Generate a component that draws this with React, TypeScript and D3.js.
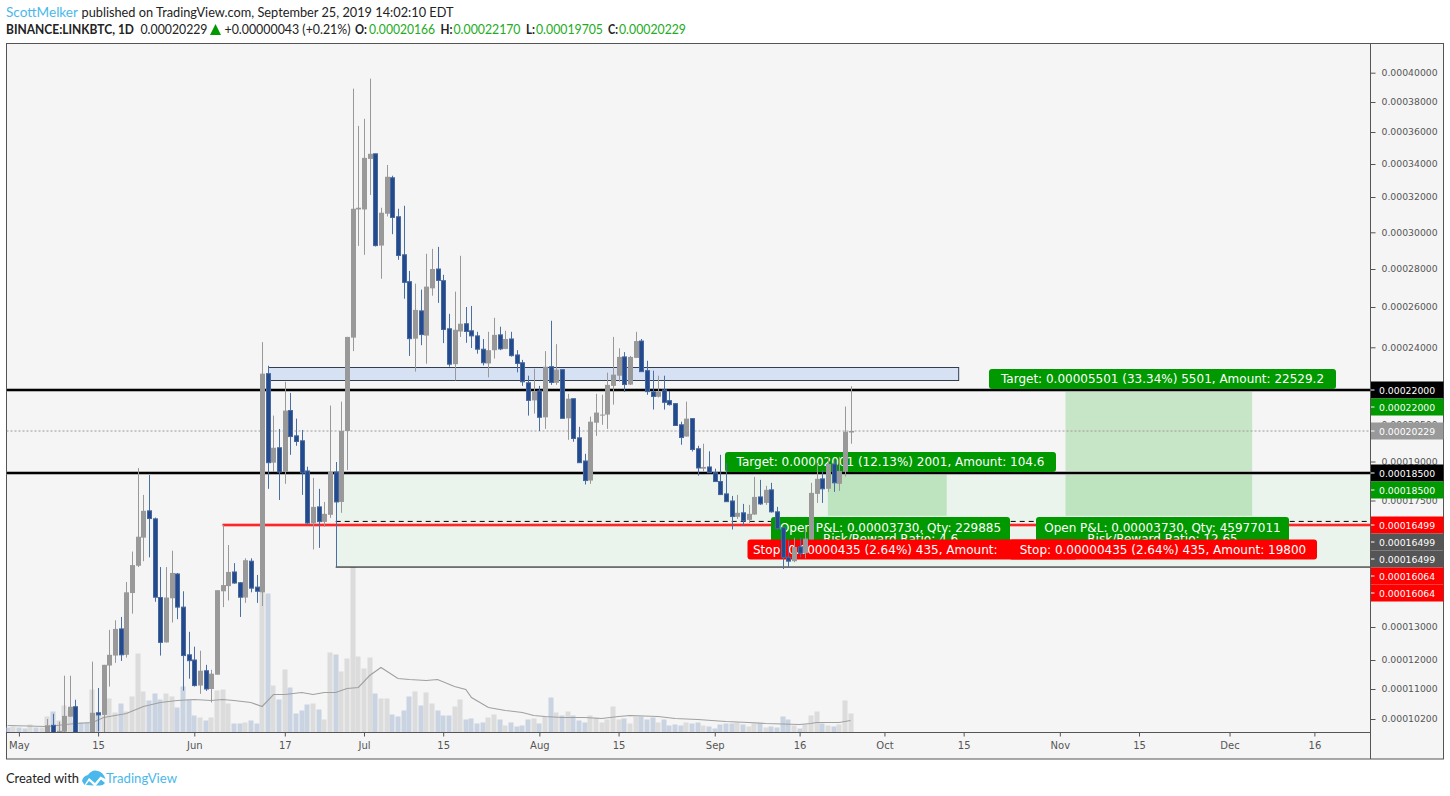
import { useEffect, useRef } from 'react';
import * as d3 from 'd3';

// prices are in satoshi (1e-8 BTC), day numbers count from May 1 2019
const firstCandleDay = 5;
const firstVolumeDay = -2;

const opens = [
  9700, 10040, 9700, 9880, 10260, 10520, 9650, 9650, 9700, 10360, 10306,
  11803, 12130, 12940, 12152, 14074, 15000, 16019, 17071, 16744, 13926,
  12524, 13903, 14715, 13618, 12152, 12000, 11114, 11620, 11000, 11483,
  14132, 14304, 14784, 14416, 13926, 15161, 14270, 14098, 22745, 18948,
  19544, 18543, 21093, 20028, 19826, 18587, 16567, 17234, 16622, 16908,
  18543, 17439, 20229, 24465, 31280, 31280, 34313, 34625, 29260, 31036,
  33151, 30866, 28758, 27316, 24415, 25800, 24565, 26964, 28000, 27369,
  24900, 23187, 24765, 25150, 24800, 24550, 23907, 23223, 23860, 24600,
  23921, 24400, 23628, 23256, 22325, 21538, 21957, 20804, 23070, 22325,
  22930, 20760, 21611, 19947, 19020, 18220, 20575, 20890, 20920, 22186,
  22651, 23535, 22246, 23488, 24300, 22884, 21914, 21698, 22000, 21525,
  21395, 20488, 20000, 20747, 19504, 18687, 18761, 18513, 18183, 17736,
  17480, 16826, 16990, 16703, 16919, 17627, 17398, 17881, 17030, 16396,
  15298, 15161, 15676, 15446, 15950, 17736, 18282, 17918, 18891, 18100,
  18557, 20166,
];
const highs = [
  10200, 10333, 10130, 11448, 11448, 10706, 9700, 9700, 11941, 11034, 11827,
  12909, 13206, 13309, 14441, 15504, 18717, 17699, 18427, 16797, 14955,
  14955, 15538, 14750, 14132, 12849, 12394, 12273, 11827, 11655, 14167,
  16499, 15744, 15093, 14441, 15264, 15264, 14681, 24250, 23116, 20877,
  20315, 22372, 21870, 20747, 20272, 18774, 18318, 17918, 17439, 21309,
  18978, 21482, 24500, 38896, 36400, 36866, 39586, 34625, 31376, 33940,
  33273, 31320, 31490, 27895, 27211, 26895, 28812, 29082, 29190, 27684,
  25650, 26790, 28704, 26000, 26053, 24750, 24400, 24750, 25450, 25000,
  24800, 24750, 23860, 23395, 22651, 22977, 22186, 23814, 25300, 24150,
  22930, 21827, 21611, 20402, 19302, 20834, 21827, 21784, 22791, 24500,
  23953, 23767, 23581, 24750, 24400, 23349, 22884, 22651, 22651, 21957,
  21395, 20618, 21482, 20760, 19624, 19705, 19403, 18687, 19262, 18935,
  17663, 17699, 17357, 17316, 18354, 18245, 18027, 18136, 17234, 16430,
  15926, 16019, 16019, 16327, 18136, 18935, 18630, 19181, 19060, 19181,
  21266, 22170,
];
const lows = [
  9600, 9600, 9600, 9700, 10260, 9600, 9500, 9500, 9600, 9885, 9600,
  11080, 11897, 11965, 12070, 13412, 14955, 15161, 15298, 13789, 12130,
  12515, 13137, 13240, 10955, 11345, 11080, 10866, 10947, 10634, 11483,
  13618, 13834, 14383, 13309, 13754, 14098, 13754, 13652, 17918, 18543,
  17518, 18100, 19262, 19624, 17699, 16499, 15583, 15641, 16430, 16785,
  14955, 16990, 18630, 23814, 29244, 28758, 32121, 29206, 27474, 30883,
  29892, 28488, 26421, 23581, 22837, 24100, 23209, 26579, 26211, 24200,
  23070, 22432, 24500, 24215, 23967, 23688, 23130, 22572, 23456, 23860,
  23907, 23549, 22805, 22186, 20877, 20963, 20229, 20315, 22232, 22232,
  20760, 19866, 19786, 18948, 18074, 18100, 20028, 20488, 20315, 21352,
  22372, 21914, 22220, 23488, 22837, 21784, 21136, 21667, 21136, 21309,
  20445, 19665, 20000, 19394, 18402, 18557, 18513, 18183, 17699, 17451,
  16327, 16744, 16465, 16581, 16908, 17316, 17316, 17000, 16327, 14887,
  14921, 15127, 15298, 15264, 15950, 17398, 17398, 17808, 17808, 17845,
  18365, 19705,
];
const closes = [
  10040, 9700, 9900, 10280, 10520, 9700, 9600, 9600, 10360, 10306, 11827,
  12152, 12940, 12152, 14098, 15024, 16053, 17071, 16757, 13937, 12524,
  13926, 14750, 13618, 12130, 11976, 11114, 11620, 11000, 11517, 14167,
  14338, 14784, 14407, 13937, 15196, 14235, 14132, 22745, 18948, 19544,
  18543, 21093, 20000, 19798, 18500, 16578, 17234, 16634, 16948, 18543,
  17439, 20229, 24500, 31320, 31376, 34375, 34625, 29260, 31093, 33212,
  30827, 28720, 27279, 24415, 25850, 24615, 27053, 28000, 27385, 24865,
  23187, 24850, 25150, 24765, 24550, 23907, 23256, 23860, 24600, 23921,
  24400, 23595, 23223, 22372, 21538, 21957, 20804, 23070, 22339, 22930,
  20760, 21611, 19919, 18948, 18220, 20618, 21006, 20920, 22232, 22698,
  23535, 22246, 23535, 24300, 22837, 21927, 21711, 21914, 21451, 21352,
  20458, 19959, 20747, 19475, 18717, 18761, 18513, 18183, 17710, 17451,
  16838, 16990, 16663, 16948, 17627, 17357, 17881, 17030, 16362, 15298,
  15161, 15676, 15446, 15984, 17772, 18282, 17918, 18891, 18136, 18587,
  20201, 20229,
];

// volume, in the height units of the pane
const volumes = [
  5, 6, 5, 4, 8, 5, 5,
  16, 21, 12, 27, 22, 12, 10, 10, 43, 20, 17,
  34, 20, 29, 21, 36, 79, 41, 32, 39, 33,
  39, 36, 25, 46, 33, 17, 15, 12, 15, 42,
  43, 29, 9, 9, 10, 12, 9, 145, 139, 47,
  33, 63, 45, 19, 22, 28, 29, 23, 13, 80,
  78, 61, 74, 171, 76, 64, 75, 39, 34, 34,
  18, 16, 22, 36, 41, 27, 40, 29, 22, 17,
  17, 26, 33, 13, 14, 9, 10, 15, 18, 13,
  7, 10, 6, 7, 13, 14, 9, 16, 35, 20,
  17, 21, 17, 12, 10, 17, 15, 10, 13, 26,
  13, 14, 9, 16, 16, 13, 15, 10, 13, 7,
  8, 7, 10, 9, 10, 7, 6, 4, 8, 9,
  9, 10, 8, 6, 9, 9, 5, 6, 5, 16,
  13, 7, 4, 8, 17, 21, 9, 7, 6, 8,
  32, 19,
];
// direction of the bars that sit before the first visible candle
const earlyVolumeUp = [false, true, false, false, true, false, true];

const maDays = [-2, 5, 10, 13, 15, 19, 22, 25, 28, 31, 34, 36, 38, 41, 43, 45, 47, 50, 52, 54, 56, 58, 60, 62, 64, 67, 69, 72, 74, 77, 79, 80, 83, 86, 89, 91, 93, 96, 100, 103, 106, 108, 113, 116, 120, 125, 129, 132, 138, 140, 141, 145, 147];
const maValues = [7, 6, 9, 10, 15, 19, 26, 30, 32, 33, 32, 33, 32, 30, 26, 38, 38, 40, 38, 40, 40, 44, 45, 57, 65, 54, 53, 52, 53, 46, 43, 35, 25, 22, 20, 17, 16, 15, 15, 14, 16, 17, 16, 14, 13, 11, 10, 9, 8, 9, 10, 10, 12];

const scalePrices = [10200, 11000, 12000, 13000, 16499, 17500, 18500, 19000, 20229, 22000, 24000, 26000, 28000, 30000, 32000, 34000, 36000, 38000, 40000];
const priceTicks = [40000, 38000, 36000, 34000, 32000, 30000, 28000, 26000, 24000, 20500, 19000, 17500, 13000, 12000, 11000, 10200];
const tickDays = [0, 14, 31, 47, 61, 75, 92, 106, 123, 138, 153, 167, 184, 198, 214, 229];
const tickLabels = ['May', '15', 'Jun', '17', 'Jul', '15', 'Aug', '15', 'Sep', '16', 'Oct', '15', 'Nov', '15', 'Dec', '16'];

const badgePrices = [22000, 22000, 20229, 18500, 18500, 16499, 16499, 16499, 16064, 16064];
const badgeColors = ['#000000', '#009900', '#999999', '#000000', '#009900', '#ff0000', '#555555', '#555555', '#ff0000', '#ff0000'];

const levelLines = [22000, 18500];
const lastPrice = 20229;
const entryPrice = 16642;
const stopPrice = 16499;
const zoneLow = 14955;
const targetLow = 16866;

const dayDate = (d: number) => new Date(Date.UTC(2019, 4, 1 + d));
const fmt = (v: number) => (v / 1e8).toFixed(8);

const PLOT_L = 6.5;
const PLOT_R = 1370.5;
const PLOT_T = 43.5;
const PLOT_B = 732.5;
const AXIS_FONT = '"DejaVu Sans", sans-serif';
const HEAD_FONT = 'Lato, sans-serif';

const App = () => {
  const ref = useRef<SVGSVGElement>(null);

  useEffect(() => {
    if (!ref.current) return;
    const svg = d3.select(ref.current);
    svg.selectAll('*').remove();

    const x = d3.scaleUtc().domain([dayDate(0), dayDate(229)]).range([18.9, 1314.4]);
    const xd = (d: number) => x(dayDate(d));
    const y = d3
      .scaleLog()
      .domain(scalePrices)
      .range([719, 689, 660, 627, 525, 500.5, 473, 461.5, 431, 390, 347.3, 307, 269, 232.3, 197, 164, 132, 102, 72.7]);
    const vol = d3.scaleLinear().domain([0, 172]).range([PLOT_B, PLOT_B - 172]);

    // frame
    svg.append('rect').attr('x', 6.5).attr('y', PLOT_T).attr('width', 1437).attr('height', 715.5)
      .attr('fill', '#f5f5f5').attr('stroke', '#555');

    svg.append('clipPath').attr('id', 'plot').append('rect')
      .attr('x', PLOT_L).attr('y', PLOT_T).attr('width', PLOT_R - PLOT_L).attr('height', PLOT_B - PLOT_T);
    const plot = svg.append('g').attr('clip-path', 'url(#plot)');

    // volume
    plot.selectAll('.vol').data(volumes).enter().append('rect')
      .attr('x', (_, i) => Math.round(xd(firstVolumeDay + i)) - 2.5)
      .attr('width', 5)
      .attr('y', (d) => vol(d))
      .attr('height', (d) => PLOT_B - vol(d))
      .attr('fill', (_, i) => {
        const c = i + firstVolumeDay - firstCandleDay;
        const up = c < 0 ? earlyVolumeUp[i] : closes[c] >= opens[c];
        return up ? '#dcdcdc' : '#c9d3e1';
      });

    // zone + levels
    plot.append('rect').attr('x', xd(56)).attr('width', PLOT_R - xd(56))
      .attr('y', y(18500)).attr('height', y(zoneLow) - y(18500)).attr('fill', '#eaf4ec');
    plot.append('line').attr('x1', xd(56)).attr('x2', PLOT_R).attr('y1', y(zoneLow)).attr('y2', y(zoneLow))
      .attr('stroke', '#000').attr('stroke-width', 1);

    const targets = [[143, 164, 18500], [185, 218, 22000]];
    targets.forEach(([a, b, top]) => {
      plot.append('rect').attr('x', xd(a)).attr('width', xd(b) - xd(a))
        .attr('y', y(top)).attr('height', y(targetLow) - y(top))
        .attr('fill', 'rgb(0,157,0)').attr('fill-opacity', 0.19);
    });

    plot.append('line').attr('x1', PLOT_L).attr('x2', PLOT_R).attr('y1', y(lastPrice)).attr('y2', y(lastPrice))
      .attr('stroke', '#999').attr('stroke-dasharray', '2 2');

    levelLines.forEach((p) => {
      plot.append('line').attr('x1', PLOT_L).attr('x2', PLOT_R).attr('y1', y(p)).attr('y2', y(p))
        .attr('stroke', '#9a9a9a').attr('stroke-width', 3.5);
      plot.append('line').attr('x1', PLOT_L).attr('x2', PLOT_R).attr('y1', y(p)).attr('y2', y(p))
        .attr('stroke', '#000').attr('stroke-width', 2);
    });

    // resistance box
    plot.append('rect').attr('x', Math.round(xd(44)) + 0.5).attr('width', xd(166) - xd(44))
      .attr('y', 367.5).attr('height', 13)
      .attr('fill', '#d6e2f4').attr('stroke', '#333e50');

    // stop / entry lines
    plot.append('line').attr('x1', xd(36)).attr('x2', PLOT_R).attr('y1', y(stopPrice)).attr('y2', y(stopPrice))
      .attr('stroke', '#f59a9a').attr('stroke-width', 3.5);
    plot.append('line').attr('x1', xd(36)).attr('x2', PLOT_R).attr('y1', y(stopPrice)).attr('y2', y(stopPrice))
      .attr('stroke', '#ff0000').attr('stroke-width', 1.6);
    plot.append('line').attr('x1', xd(56)).attr('x2', PLOT_R).attr('y1', y(entryPrice)).attr('y2', y(entryPrice))
      .attr('stroke', '#000').attr('stroke-dasharray', '5 4');

    // position tool labels
    const label = (lx: number, ly: number, w: number, h: number, fill: string) =>
      plot.append('rect').attr('x', lx).attr('y', ly).attr('width', w).attr('height', h).attr('rx', 3).attr('fill', fill);
    const labelText = (tx: number, ty: number, s: string, anchor = 'middle') =>
      plot.append('text').attr('x', tx).attr('y', ty).attr('text-anchor', anchor).attr('dominant-baseline', 'central')
        .attr('font-family', AXIS_FONT).attr('font-size', 12).attr('fill', '#fff').text(s);

    label(725, 452, 331, 20, '#009900');
    labelText(890.5, 462, 'Target: 0.00002001 (12.13%) 2001, Amount: 104.6');
    label(989, 369, 347, 20, '#009900');
    labelText(1162.5, 379, 'Target: 0.00005501 (33.34%) 5501, Amount: 22529.2');

    label(771, 517, 239, 38, '#009900');
    labelText(890.5, 527.5, 'Open P&L: 0.00003730, Qty: 229885');
    labelText(890.5, 538.5, 'Risk/Reward Ratio: 4.6');
    label(1036, 517, 253, 38, '#009900');
    labelText(1162.5, 527.5, 'Open P&L: 0.00003730, Qty: 45977011');
    labelText(1162.5, 538.5, 'Risk/Reward Ratio: 12.65');

    label(747.5, 539.5, 330, 20, '#ff0000');
    labelText(753, 549.5, 'Stop: 0.00000435 (2.64%) 435, Amount:', 'start');
    label(1009, 539.5, 308, 20, '#ff0000');
    labelText(1163, 549.5, 'Stop: 0.00000435 (2.64%) 435, Amount: 19800');

    // volume average
    const maLine = d3.line<number>()
      .x((_, i) => xd(maDays[i]))
      .y((d) => vol(d));
    plot.append('path').attr('d', maLine(maValues)).attr('fill', 'none').attr('stroke', '#a0a0a0').attr('stroke-width', 1.1);

    // candles
    const candles = plot.selectAll('.candle').data(opens).enter().append('g')
      .attr('transform', (_, i) => `translate(${Math.round(xd(firstCandleDay + i)) + 0.5},0)`);
    const isUp = (i: number) => closes[i] >= opens[i];
    candles.append('line')
      .attr('y1', (_, i) => y(highs[i]))
      .attr('y2', (_, i) => y(lows[i]))
      .attr('stroke', (_, i) => (isUp(i) ? '#999999' : '#4a6fa5'));
    candles.append('rect')
      .attr('x', (_, i) => (isUp(i) ? -2.5 : -2))
      .attr('width', (_, i) => (isUp(i) ? 5 : 4))
      .attr('y', (_, i) => y(Math.max(opens[i], closes[i])))
      .attr('height', (_, i) => Math.max(1, Math.abs(y(opens[i]) - y(closes[i]))))
      .attr('fill', (_, i) => (isUp(i) ? '#999999' : '#234a8c'))
      .attr('stroke', (_, i) => (isUp(i) ? 'none' : '#46689f'));

    // axes
    const xAxis = d3.axisBottom(x)
      .tickValues(tickDays.map(dayDate))
      .tickFormat((_, i) => tickLabels[i])
      .tickSize(4).tickPadding(5);
    const xg = svg.append('g').attr('transform', `translate(0,${PLOT_B})`).call(xAxis);
    xg.select('.domain').remove();
    xg.selectAll('line').attr('stroke', '#555');
    xg.selectAll('text').attr('font-family', AXIS_FONT).attr('font-size', 10).attr('fill', '#555');
    svg.append('line').attr('x1', 6).attr('x2', PLOT_R).attr('y1', PLOT_B).attr('y2', PLOT_B).attr('stroke', '#555');

    const yAxis = d3.axisRight(y)
      .tickValues(priceTicks)
      .tickFormat((v) => fmt(+v))
      .tickSize(5).tickPadding(6);
    const yg = svg.append('g').attr('transform', `translate(${PLOT_R},0)`).call(yAxis);
    yg.select('.domain').remove();
    yg.selectAll('line').attr('stroke', '#555');
    yg.selectAll('text').attr('font-family', AXIS_FONT).attr('font-size', 9.3).attr('fill', '#555');
    svg.append('line').attr('x1', PLOT_R).attr('x2', PLOT_R).attr('y1', PLOT_T).attr('y2', 759).attr('stroke', '#555');

    // price badges, pushed down so they do not overlap
    let prevY = -100;
    badgePrices.forEach((p, i) => {
      const cy = Math.max(y(p), prevY + 17);
      prevY = cy;
      svg.append('rect').attr('x', PLOT_R + 0.5).attr('y', cy - 8.5).attr('width', 72.5).attr('height', 17).attr('fill', badgeColors[i]);
      svg.append('line').attr('x1', PLOT_R + 0.5).attr('x2', PLOT_R + 4).attr('y1', cy).attr('y2', cy).attr('stroke', '#fff');
      svg.append('text').attr('x', PLOT_R + 8.5).attr('y', cy).attr('dominant-baseline', 'central')
        .attr('font-family', AXIS_FONT).attr('font-size', 9.3).attr('fill', '#fff').text(fmt(p));
    });

    // header
    const head = (tx: number, ty: number, s: string, fill: string, bold = false, w?: number) => {
      const t = svg.append('text').attr('x', tx).attr('y', ty).attr('font-family', HEAD_FONT).attr('font-size', 14)
        .attr('fill', fill).attr('font-weight', bold ? 700 : 400).text(s);
      if (w) t.attr('textLength', w).attr('lengthAdjust', 'spacingAndGlyphs');
    };
    const DARK = '#222';
    const GREEN = '#22ab22';
    head(6, 17, 'ScottMelker', '#4ab8ea', false, 72);
    head(81.5, 17, 'published on TradingView.com, September 25, 2019 14:02:10 EDT', DARK, false, 372);
    head(6, 34, 'BINANCE:LINKBTC, 1D', DARK, true, 128);
    head(140.5, 34, '0.00020229', DARK, false, 67);
    svg.append('path').attr('d', 'M210 35 L215.5 24 L221 35 Z').attr('fill', '#009900');
    head(224.5, 34, '+0.00000043 (+0.21%)', DARK, false, 126);
    head(355, 34, 'O:', DARK, true, 12);
    head(369, 34, '0.00020166', GREEN, false, 66);
    head(440.5, 34, 'H:', DARK, true, 12);
    head(453.5, 34, '0.00022170', GREEN, false, 67);
    head(526, 34, 'L:', DARK, true, 9);
    head(536, 34, '0.00019705', GREEN, false, 67);
    head(608, 34, 'C:', DARK, true, 10);
    head(619, 34, '0.00020229', GREEN, false, 67);

    // footer
    svg.append('text').attr('x', 6).attr('y', 783).attr('font-family', HEAD_FONT).attr('font-size', 14).attr('fill', '#222')
      .attr('textLength', 73).attr('lengthAdjust', 'spacingAndGlyphs').text('Created with');
    svg.append('path')
      .attr('d', 'M82 781 Q83 776 88 775 Q92 769 98 771 Q103 772 105.5 779 L100.5 776.5 L95 783 L89 778 L84.5 785 Z')
      .attr('fill', '#4ab8ea');
    svg.append('path').attr('d', 'M86 785 L89 781 L94 785.5 Z M96 785.5 L101 779.5 L105 783 Q103 785.5 100 785.5 Z').attr('fill', '#4ab8ea');
    svg.append('text').attr('x', 106).attr('y', 783).attr('font-family', HEAD_FONT).attr('font-size', 14).attr('fill', '#4ab8ea')
      .attr('textLength', 71).attr('lengthAdjust', 'spacingAndGlyphs').text('TradingView');
  }, []);

  return <svg ref={ref} width={1450} height={796} style={{ position: 'absolute', left: 0, top: 0 }} />;
};

export default App;
